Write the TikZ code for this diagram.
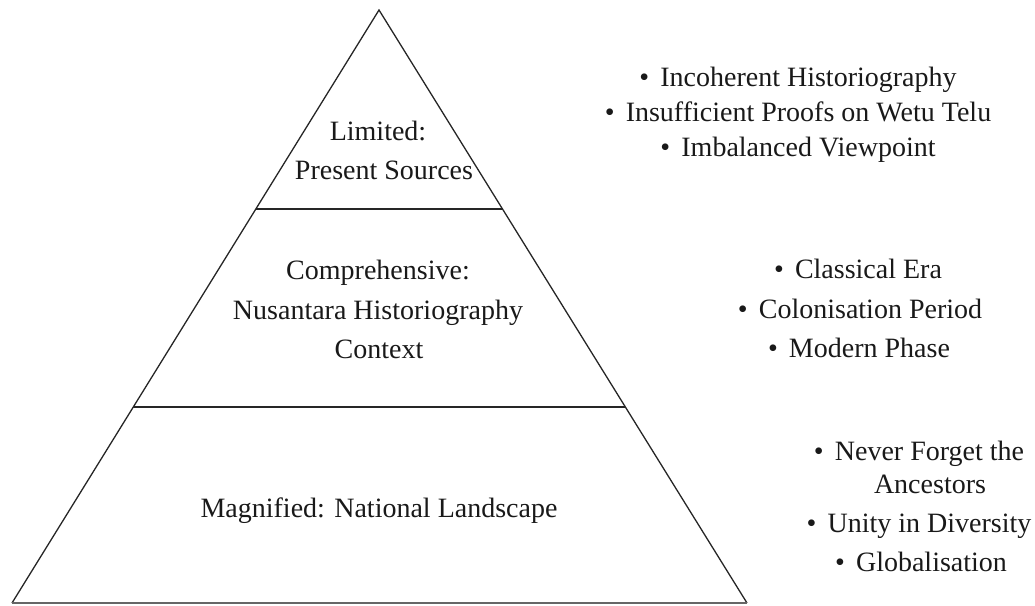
\documentclass[tikz,border=0pt]{standalone}
\usepackage{fontspec}
\setmainfont{Liberation Serif}
\usetikzlibrary{calc}
\begin{document}
\begin{tikzpicture}[x=1pt,y=-1pt,
  edge/.style={line width=1.3pt,draw=black!85,line join=miter},
  label/.style={anchor=base,inner sep=0pt,font=\fontsize{28}{34}\selectfont,text=black!90},
  item/.style={label}]
\useasboundingbox (0,0) rectangle (1035,605);
% pyramid outline
\coordinate (apex) at (379,10);
\coordinate (bl) at (12,603);
\coordinate (br) at (747,603);
\draw[edge] (bl) -- (apex) -- (br);
\draw[line width=1.3pt,draw=black!60] (bl) -- (br);
% tier dividers
\coordinate (d1l) at ($(apex)!0.3356!(bl)$);
\coordinate (d1r) at ($(apex)!0.3356!(br)$);
\coordinate (d2l) at ($(apex)!0.6695!(bl)$);
\coordinate (d2r) at ($(apex)!0.6695!(br)$);
\draw[edge] (d1l) -- (d1r);
\draw[edge] (d2l) -- (d2r);
% tier labels
\node[label] (t1a) at (378,140) {Limited:};
\node[label] (t1b) at (384,179) {Present Sources};
\node[label] (t2a) at (378,279) {Comprehensive:};
\node[label] (t2b) at (378,319) {Nusantara Historiography};
\node[label] (t2c) at (379,358) {Context};
\node[label] (t3a) at (379,517) {Magnified: National Landscape};
% side notes
\newcommand{\bul}{\textbullet\hspace{0.4em}}
\node[item] (n1a) at (798,86) {\bul Incoherent Historiography};
\node[item] (n1b) at (798,121) {\bul Insufficient Proofs on Wetu Telu};
\node[item] (n1c) at (798,156) {\bul Imbalanced Viewpoint};
\node[item] (n2a) at (858,278) {\bul Classical Era};
\node[item] (n2b) at (860,318) {\bul Colonisation Period};
\node[item] (n2c) at (859,357) {\bul Modern Phase};
\node[item] (n3a) at (919,460) {\bul Never Forget the};
\node[item] (n3b) at (930,493) {Ancestors};
\node[item] (n3c) at (919,532) {\bul Unity in Diversity};
\node[item] (n3d) at (921,571) {\bul Globalisation};
\end{tikzpicture}
\end{document}
